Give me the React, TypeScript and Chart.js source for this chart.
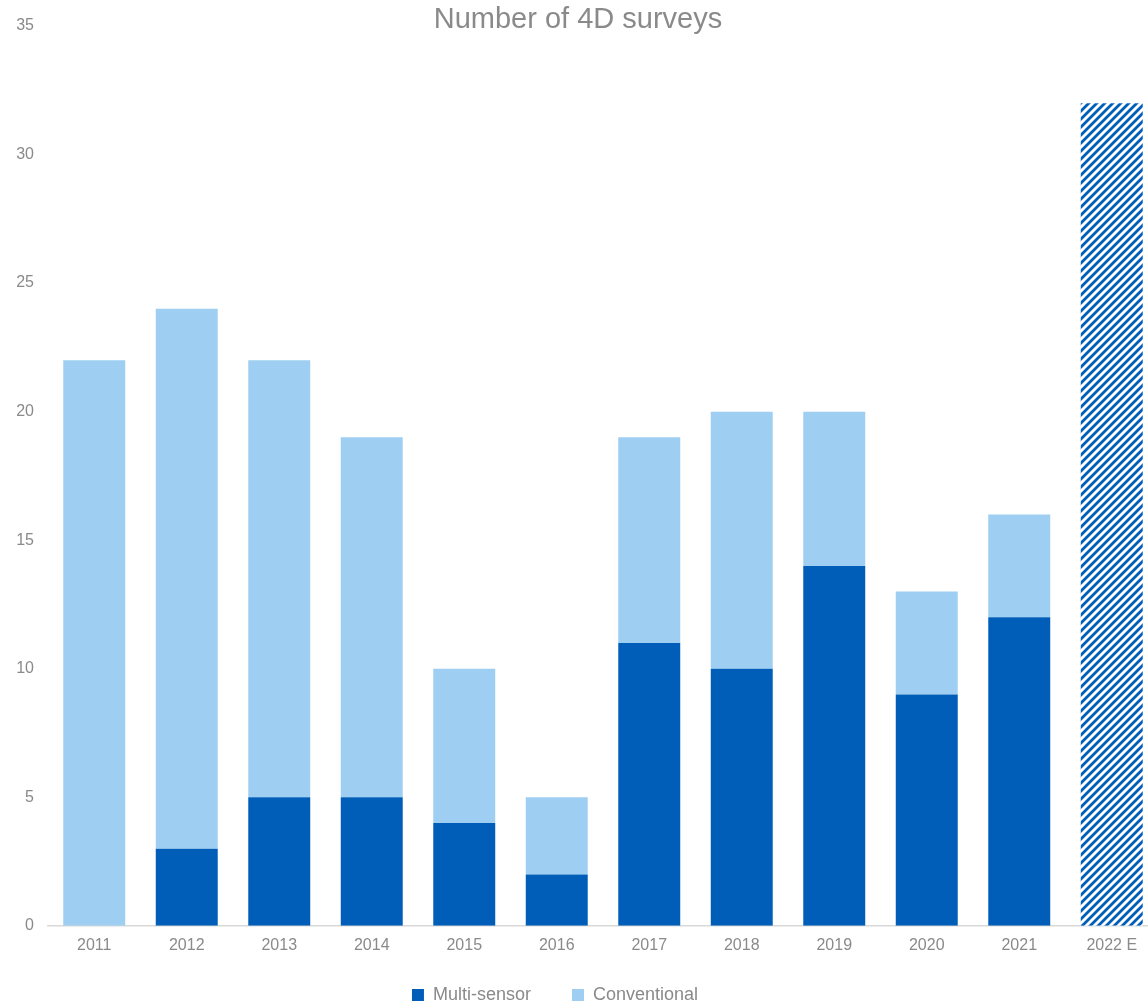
import React, { useEffect, useRef } from "react";
import { Chart, registerables } from "chart.js";

Chart.register(...registerables);

const categories = ["2011", "2012", "2013", "2014", "2015", "2016", "2017", "2018", "2019", "2020", "2021", "2022 E"];
const multiSensor = [0, 3, 5, 5, 4, 2, 11, 10, 14, 9, 12, null];
const conventional = [22, 21, 17, 14, 6, 3, 8, 10, 6, 4, 4, null];
const estimate = [null, null, null, null, null, null, null, null, null, null, null, 32];
const titleText = "Number of 4D surveys";

const DARK = "#005EB8";
const LIGHT = "#9ECFF2";
const TEXT = "#8A8A8A";
const FONT = "Liberation Sans, Arial, sans-serif";

function makeHatch(): CanvasPattern | string {
  const c = document.createElement("canvas");
  c.width = 8;
  c.height = 8;
  const g = c.getContext("2d");
  if (!g) return DARK;
  g.fillStyle = "#ffffff";
  g.fillRect(0, 0, 8, 8);
  g.strokeStyle = DARK;
  g.lineWidth = 2.8;
  g.beginPath();
  g.moveTo(-2, 10);
  g.lineTo(10, -2);
  g.moveTo(-6, 6);
  g.lineTo(6, -6);
  g.moveTo(2, 14);
  g.lineTo(14, 2);
  g.stroke();
  const p = g.createPattern(c, "repeat");
  return p || DARK;
}

const titlePlugin = {
  id: "customTitle",
  afterDraw(chart: any) {
    const ctx = chart.ctx;
    ctx.save();
    ctx.font = `29px ${FONT}`;
    ctx.fillStyle = TEXT;
    ctx.textAlign = "center";
    ctx.textBaseline = "middle";
    ctx.fillText(titleText, 578, 20);
    ctx.restore();
  },
};

const legendShift = {
  id: "legendShift",
  afterLayout(chart: any) {
    const lg = chart.legend;
    if (lg) {
      lg.left -= 24;
      lg.right -= 24;
      lg.top -= 20;
      lg.bottom -= 20;
    }
  },
};

export default function App() {
  const ref = useRef<HTMLCanvasElement | null>(null);

  useEffect(() => {
    if (!ref.current) return;
    const hatch = makeHatch();
    const chart = new Chart(ref.current, {
      type: "bar",
      data: {
        labels: categories,
        datasets: [
          { label: "Multi-sensor", data: multiSensor as any, backgroundColor: DARK, stack: "s" },
          { label: "Conventional", data: conventional as any, backgroundColor: LIGHT, stack: "s" },
          { label: "Estimate", data: estimate as any, backgroundColor: hatch as any, stack: "s" },
        ],
      },
      options: {
        animation: false,
        responsive: false,
        maintainAspectRatio: false,
        layout: { padding: { top: 26, left: 0, right: 0, bottom: 0 } },
        datasets: { bar: { categoryPercentage: 1, barPercentage: 0.67 } } as any,
        scales: {
          x: {
            stacked: true,
            grid: { display: false, drawTicks: false },
            border: { display: true, color: "#D9D9D9", width: 1.5 },
            ticks: { color: TEXT, font: { family: FONT, size: 16 }, padding: 10, maxRotation: 0, autoSkip: false },
          },
          y: {
            stacked: true,
            min: 0,
            max: 35,
            grid: { display: false, drawTicks: false },
            border: { display: false },
            ticks: { stepSize: 5, color: TEXT, font: { family: FONT, size: 16 }, padding: 14 },
            afterFit: (s: any) => { s.width = 48; },
          },
        },
        plugins: {
          title: { display: false },
          tooltip: { enabled: false },
          legend: {
            position: "bottom",
            labels: {
              color: TEXT,
              font: { family: FONT, size: 18 },
              boxWidth: 12,
              boxHeight: 12,
              padding: 41,
              filter: (item: any) => item.text !== "Estimate",
            },
          },
        },
      },
      plugins: [titlePlugin, legendShift],
    });
    return () => chart.destroy();
  }, []);

  return (
    <div style={{ position: "fixed", left: 0, top: 0, width: 1148, height: 1004, overflow: "hidden", background: "#fff" }}>
      <canvas ref={ref} width={1158} height={1034} style={{ display: "block", width: 1158, height: 1034 }} />
    </div>
  );
}
